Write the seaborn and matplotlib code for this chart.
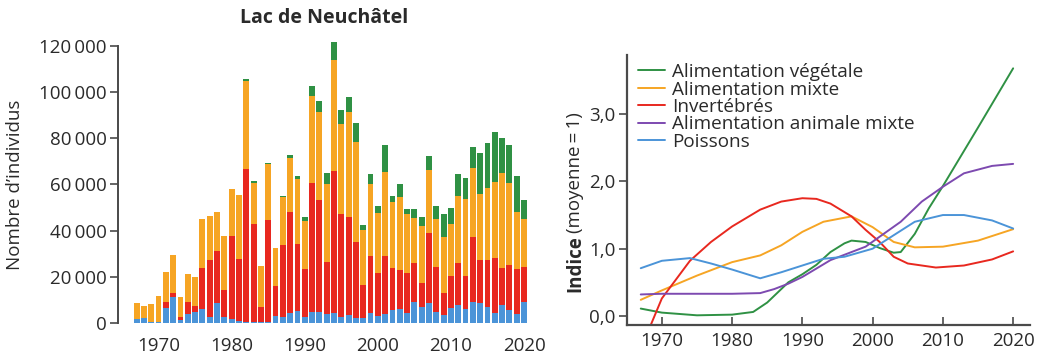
import numpy as np
import pandas as pd
import matplotlib
matplotlib.use("Agg")
import matplotlib.pyplot as plt
import seaborn as sns

# ---------------- data: left chart (stacked bars) ----------------
years = list(range(1967, 2021))
poissons_n = [1600, 2000, 600, 600, 6300, 11400, 1300, 3900, 4900, 6100,
              2500, 8500, 2500, 1600, 1000, 400, 600, 400, 600, 3000,
              2700, 4200, 5300, 2700, 4900, 4900, 3900,
              4500, 2700, 3500, 2000, 2000, 4500, 3000,
              3900, 5600, 5900, 4500, 9200, 6800, 8800, 4900, 3500, 6300,
              7800, 5900, 9200, 8500, 7100, 4500, 7800, 5600, 3900, 9200]
invert_n = [0, 0, 0, 0, 2900, 1400, 1400, 5300, 2500, 17900,
            24800, 22800, 11800, 36100, 26600, 66100, 42100, 6700, 44000, 13000,
            31100, 44000, 28700, 20500, 55800, 48300, 22600,
            61400, 44500, 42500, 33200, 14500, 24500, 18500,
            25100, 18100, 17100, 17000, 16600, 10700, 30000, 19500, 9300, 14000,
            18300, 14400, 28200, 18800, 20200, 23800, 15900, 19500, 19300, 14900]
mixte_n = [6900, 5400, 7600, 11100, 12700, 16500, 8700, 12000, 12600, 20900,
           19000, 16800, 23500, 20300, 27800, 38300, 18100, 17600, 24200, 16600,
           20600, 23300, 28300, 21100, 37600, 38300, 33900,
           48200, 39200, 45400, 43300, 23800, 31400, 26000,
           36500, 28900, 31700, 25500, 19500, 24500, 27400, 20500, 24500, 22400,
           28900, 33600, 29600, 28600, 31000, 32900, 41400, 35400, 25000, 20800]
vege_n = [0] * 15 + [900, 700, 0, 600, 0,
                     600, 1200, 1300, 1700, 4300, 4600, 4600,
                     7600, 5800, 6500, 8200, 2200, 4000, 3200,
                     11500, 2200, 5300, 2200, 3900, 3800, 6100, 5800, 9800, 6900,
                     9500, 8700, 9400, 17900, 19800, 21400, 15200, 16600, 15600, 8400]
left_yticks = [0, 20000, 40000, 60000, 80000, 100000, 120000]
left_yticklabels = ["0", "20\u2009000", "40\u2009000", "60\u2009000", "80\u2009000",
                    "100\u2009000", "120\u2009000"]
left_xticks = [1970, 1980, 1990, 2000, 2010, 2020]

# ---------------- data: right chart (indices) ----------------
vege_years = [1967, 1970, 1975, 1980, 1983, 1985, 1988, 1990, 1992, 1994, 1996, 1997,
              1999, 2001, 2003, 2004, 2006, 2008, 2010, 2015, 2020]
vege_idx = [0.11, 0.05, 0.01, 0.02, 0.06, 0.2, 0.5, 0.62, 0.76, 0.95, 1.08, 1.12,
            1.10, 1.01, 0.94, 0.95, 1.22, 1.6, 1.93, 2.8, 3.68]
mixte_years = [1967, 1970, 1975, 1980, 1984, 1987, 1990, 1993, 1997, 2000, 2003, 2006,
               2010, 2015, 2020]
mixte_idx = [0.24, 0.38, 0.6, 0.8, 0.9, 1.05, 1.25, 1.4, 1.48, 1.32, 1.1, 1.02,
             1.03, 1.12, 1.29]
invert_years = [1968, 1970, 1974, 1977, 1980, 1984, 1987, 1990, 1992, 1994, 1997, 1999,
                2001, 2003, 2005, 2009, 2013, 2017, 2020]
invert_idx = [-0.24, 0.26, 0.82, 1.1, 1.33, 1.58, 1.7, 1.75, 1.74, 1.67, 1.48, 1.28,
              1.1, 0.88, 0.78, 0.72, 0.75, 0.84, 0.96]
animal_years = [1967, 1970, 1975, 1980, 1984, 1986, 1988, 1990, 1994, 1999, 2004, 2007,
                2010, 2013, 2017, 2020]
animal_idx = [0.32, 0.33, 0.33, 0.33, 0.34, 0.4, 0.48, 0.58, 0.83, 1.03, 1.4, 1.7,
              1.92, 2.12, 2.23, 2.26]
poisson_years = [1967, 1970, 1974, 1977, 1980, 1984, 1987, 1990, 1993, 1996, 2000, 2003,
                 2006, 2010, 2013, 2017, 2020]
poisson_idx = [0.71, 0.82, 0.86, 0.78, 0.69, 0.56, 0.65, 0.75, 0.85, 0.88, 1.0, 1.2,
               1.4, 1.5, 1.5, 1.42, 1.3]
right_yticks = [0, 1, 2, 3]
right_yticklabels = ["0,0", "1,0", "2,0", "3,0"]
right_xticks = [1970, 1980, 1990, 2000, 2010, 2020]

labels = ["Alimentation végétale", "Alimentation mixte", "Invertébrés",
          "Alimentation animale mixte", "Poissons"]

C_GREEN = "#2f9144"
C_ORANGE = "#f6a524"
C_RED = "#e8281f"
C_PURPLE = "#7d4ab0"
C_BLUE = "#4b94d8"
AX_COL = "#4a4a4a"
TXT = "#2a2a2a"

sns.set_theme(style="white")
plt.rcParams["font.family"] = ["Open Sans", "DejaVu Sans"]
plt.rcParams["text.color"] = TXT
plt.rcParams["axes.labelcolor"] = TXT
plt.rcParams["xtick.color"] = TXT
plt.rcParams["ytick.color"] = TXT

W, H = 1051, 359
fig = plt.figure(figsize=(W / 100, H / 100), dpi=100)

# ---------------- left axes ----------------
ax1 = fig.add_axes([118 / W, (H - 323) / H, 417 / W, 284 / H])
df = pd.DataFrame({"year": years, "blue": poissons_n, "red": invert_n,
                   "orange": mixte_n, "green": vege_n})
df["c_red"] = df["blue"] + df["red"]
df["c_orange"] = df["c_red"] + df["orange"]
df["c_green"] = df["c_orange"] + df["green"]
for col, c in [("c_green", C_GREEN), ("c_orange", C_ORANGE),
               ("c_red", C_RED), ("blue", C_BLUE)]:
    sns.barplot(data=df, x="year", y=col, native_scale=True, color=c,
                width=0.8, errorbar=None, ax=ax1, saturation=1,
                edgecolor="none", linewidth=0)
ax1.set_xlim(1964.45, 2021.5)
ax1.set_ylim(0, 123000)
ax1.set_yticks(left_yticks)
ax1.set_yticklabels(left_yticklabels, fontsize=13.5)
ax1.set_xticks(left_xticks)
ax1.set_xticklabels([str(v) for v in left_xticks], fontsize=13.5)
for s in ["top", "right", "bottom"]:
    ax1.spines[s].set_visible(False)
ax1.spines["left"].set_color(AX_COL)
ax1.spines["left"].set_linewidth(1.4)
ax1.spines["left"].set_bounds(0, 120000)
ax1.tick_params(axis="y", direction="out", length=6, width=1.2, color=AX_COL, pad=2,
                left=True)
ax1.tick_params(axis="x", length=0, pad=10)
ax1.set_xlabel("")
ax1.set_ylabel("")
ax1.set_facecolor("white")
fig.text(15 / W, (H - 185) / H, "Nombre d\u2019individus", rotation=90, fontsize=13.5,
         ha="center", va="center")
fig.text(324 / W, (H - 18) / H, "Lac de Neuchâtel", fontsize=14, fontweight="bold",
         ha="center", va="center")

# ---------------- right axes ----------------
ax2 = fig.add_axes([626.7 / W, (H - 325) / H, 403.3 / W, 270 / H])
series = [(vege_years, vege_idx, C_GREEN), (mixte_years, mixte_idx, C_ORANGE),
          (invert_years, invert_idx, C_RED), (animal_years, animal_idx, C_PURPLE),
          (poisson_years, poisson_idx, C_BLUE)]
for (yy, vv, c), lab in zip(series, labels):
    sns.lineplot(x=yy, y=vv, color=c, linewidth=1.4, label=lab, ax=ax2)
ax2.set_xlim(1965.0, 2022.4)
ax2.set_ylim(-0.134, 3.878)
ax2.set_yticks(right_yticks)
ax2.set_yticklabels(right_yticklabels, fontsize=13.5)
ax2.set_xticks(right_xticks)
ax2.set_xticklabels([str(v) for v in right_xticks], fontsize=13.5)
for s in ["top", "right"]:
    ax2.spines[s].set_visible(False)
for s in ["left", "bottom"]:
    ax2.spines[s].set_color(AX_COL)
    ax2.spines[s].set_linewidth(1.6)
ax2.tick_params(axis="y", direction="out", length=6, width=1.2, color=AX_COL, pad=2,
                left=True)
ax2.tick_params(axis="x", direction="in", length=6, width=1.2, color=AX_COL, pad=5,
                bottom=True)
ax2.set_xlabel("")
ax2.set_ylabel("")
ax2.legend(loc="upper left", bbox_to_anchor=(0.028, 0.97), frameon=False,
           fontsize=13.6, handlelength=1.43, handletextpad=0.37, labelspacing=-0.03,
           borderaxespad=0.0, borderpad=0.0)

# two-weight y label
fig.text(575 / W, (H - 292) / H, "Indice", rotation=90, fontsize=13.5, fontweight="bold",
         ha="center", va="bottom")
fig.text(575 / W, (H - 233) / H, "(moyenne\u2009=\u20091)", rotation=90, fontsize=13.5,
         ha="center", va="bottom")

fig.savefig("out.png", dpi=100, facecolor="white")
